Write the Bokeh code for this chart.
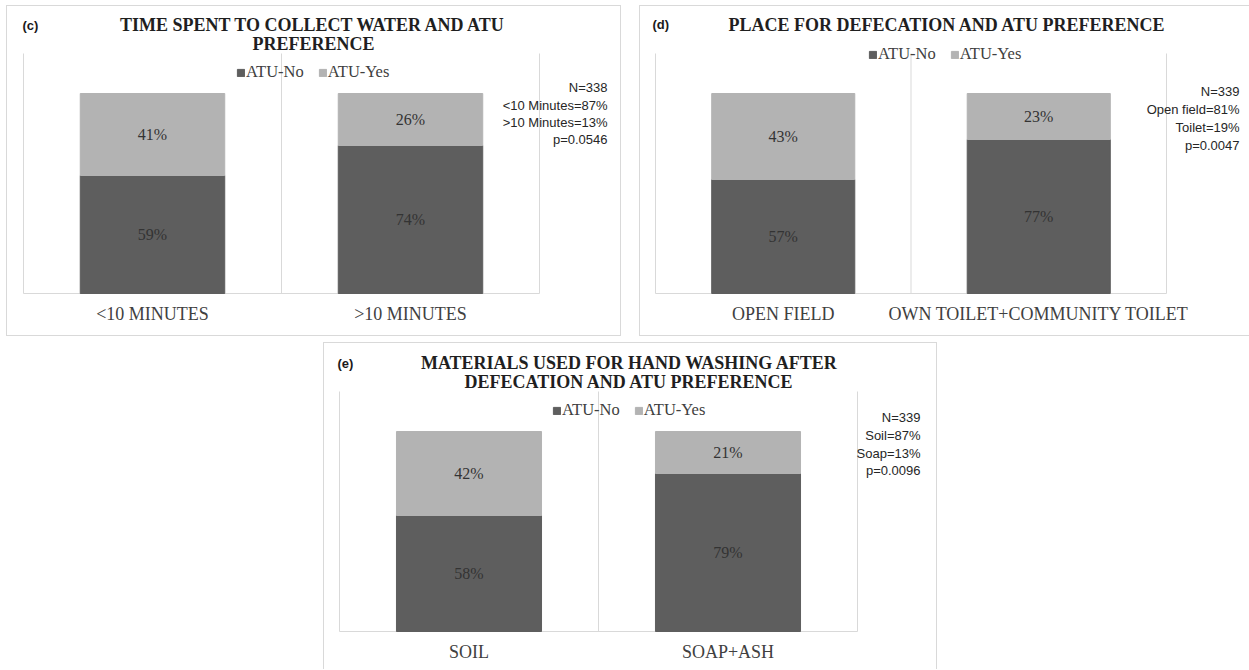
from bokeh.plotting import figure
from bokeh.models import ColumnDataSource, Label, Legend, LegendItem, Range1d
from bokeh.layouts import column, row
from bokeh.core.properties import value
from bokeh.embed import file_html
from bokeh.resources import INLINE

# ---- data -------------------------------------------------------------
STACK = ["ATU-No", "ATU-Yes"]
COLORS = ["#5e5e5e", "#b3b3b3"]

water_cats = ["<10 MINUTES", ">10 MINUTES"]
water_no = [59, 74]
water_yes = [41, 26]
water_notes = ["N=338", "<10 Minutes=87%", ">10 Minutes=13%", "p=0.0546"]

place_cats = ["OPEN FIELD", "OWN TOILET+COMMUNITY TOILET"]
place_no = [57, 77]
place_yes = [43, 23]
place_notes = ["N=339", "Open field=81%", "Toilet=19%", "p=0.0047"]

wash_cats = ["SOIL", "SOAP+ASH"]
wash_no = [58, 79]
wash_yes = [42, 21]
wash_notes = ["N=339", "Soil=87%", "Soap=13%", "p=0.0096"]

# ---- styling ----------------------------------------------------------
SERIF = "Liberation Serif"
SANS = "Liberation Sans"
GRID = "#d9d9d9"
TEXT = "#404040"
Y_TOP = 120          # value axis spans 0..120 %
SHADOW = {
    "l": "inset 1px 0 0 0 #d9d9d9",
    "t": "inset 0 1px 0 0 #d9d9d9",
    "r": "inset -1px 0 0 0 #d9d9d9",
    "b": "inset 0 -1px 0 0 #d9d9d9",
}


def panel(tag, title_lines, cats, no, yes, notes, *, width, height, bl, bt,
          fw, fh, tag_xy, title_x, title_ys, legend_c, note_right, note_ys,
          sides, margin):
    """One chart panel; the canvas is the whole panel and the bar area
    sits inside it at (bl, bt) with size fw x fh pixels."""
    n = len(cats)
    br = width - bl - fw
    bb = height - bt - fh
    ux = fw / n            # pixels per category
    uy = fh / Y_TOP        # pixels per percent
    p = figure(x_range=Range1d(-bl / ux, n + br / ux),
               y_range=Range1d(-bb / uy, Y_TOP + bt / uy),
               width=width, height=height, min_border=0,
               x_axis_location=None, y_axis_location=None,
               toolbar_location=None, output_backend="svg",
               outline_line_color=None, border_fill_color=None,
               background_fill_color=None)
    p.grid.visible = False
    p.margin = margin
    p.styles = {"background-color": "white",
                "box-shadow": ", ".join(SHADOW[s] for s in sides)}

    centers = [i + 0.5 for i in range(n)]
    src = ColumnDataSource(dict(x=centers, **{STACK[0]: no, STACK[1]: yes}))

    # separators between categories and the category baseline
    edges = list(range(n + 1))
    p.segment(x0=edges, x1=edges, y0=[0] * (n + 1), y1=[Y_TOP] * (n + 1),
              line_color=GRID, line_width=1)
    p.segment(x0=[0], x1=[n], y0=[0], y1=[0], line_color=GRID, line_width=1)

    rs = p.vbar_stack(STACK, x="x", width=0.56, color=COLORS, source=src)

    # percentage labels centred in each segment
    lab = ColumnDataSource(dict(
        x=centers + centers,
        y=[v / 2 for v in no] + [a + b / 2 for a, b in zip(no, yes)],
        t=[f"{v}%" for v in no + yes],
    ))
    p.text(x="x", y="y", text="t", source=lab, text_align="center",
           text_baseline="middle", text_font=value(SERIF),
           text_font_size="16px", text_color="#333333")

    # category names under the baseline
    p.text(x=centers, y=[0] * n, text=cats, y_offset=20,
           text_align="center", text_baseline="middle",
           text_font=value(SERIF), text_font_size="18px",
           text_color=TEXT)

    def put(text, x, y, align, font, size, style="normal", color=TEXT):
        p.add_layout(Label(x=x, y=height - y, x_units="screen",
                           y_units="screen", text=text, text_align=align,
                           text_baseline="middle", text_font=font,
                           text_font_size=size, text_font_style=style,
                           text_color=color))

    put(tag, tag_xy[0], tag_xy[1], "left", SANS, "13px", "bold", "#1a1a1a")
    for line, ty in zip(title_lines, title_ys):
        put(line, title_x, ty, "center", SERIF, "18px", "bold", "#1f1f1f")
    for line, ny in zip(notes, note_ys):
        put(line, note_right, ny, "right", SANS, "13px", color="#262626")

    leg_w, leg_h = 160, 18
    leg = Legend(items=[LegendItem(label=s, renderers=[r])
                        for s, r in zip(STACK, rs)],
                 orientation="horizontal",
                 location=(legend_c[0] - leg_w / 2,
                           height - legend_c[1] - leg_h / 2),
                 glyph_width=9, glyph_height=9, label_standoff=1, spacing=14,
                 padding=0, margin=0, border_line_color=None,
                 background_fill_color=None, label_text_font=SERIF,
                 label_text_font_size="16.5px", label_text_color=TEXT,
                 label_height=16)
    p.add_layout(leg)
    return p


pc = panel("(c)", ["TIME SPENT TO COLLECT WATER AND ATU", "PREFERENCE"],
           water_cats, water_no, water_yes, water_notes,
           width=615, height=331, bl=17, bt=48, fw=516, fh=240,
           tag_xy=(16, 20), title_x=307, title_ys=(19, 38),
           legend_c=(310, 68), note_right=601, note_ys=(82, 100, 117, 134),
           sides="ltrb", margin=(5, 0, 0, 6))

pd_ = panel("(d)", ["PLACE FOR DEFECATION AND ATU PREFERENCE"],
            place_cats, place_no, place_yes, place_notes,
            width=610, height=331, bl=16, bt=48, fw=511, fh=240,
            tag_xy=(13, 19), title_x=308, title_ys=(19,),
            legend_c=(309, 50), note_right=600, note_ys=(86, 104, 122, 140),
            sides="ltb", margin=(5, 0, 0, 18))

pe = panel("(e)", ["MATERIALS USED FOR HAND WASHING AFTER",
                   "DEFECATION AND ATU PREFERENCE"],
           wash_cats, wash_no, wash_yes, wash_notes,
           width=614, height=327, bl=16, bt=49, fw=518, fh=240,
           tag_xy=(14, 21), title_x=306, title_ys=(20, 39),
           legend_c=(309, 69), note_right=597, note_ys=(75, 93, 111, 128),
           sides="ltr", margin=(6, 0, 0, 323))

layout = column(row(pc, pd_), pe)

open("out.html", "w").write(file_html(layout, INLINE))
